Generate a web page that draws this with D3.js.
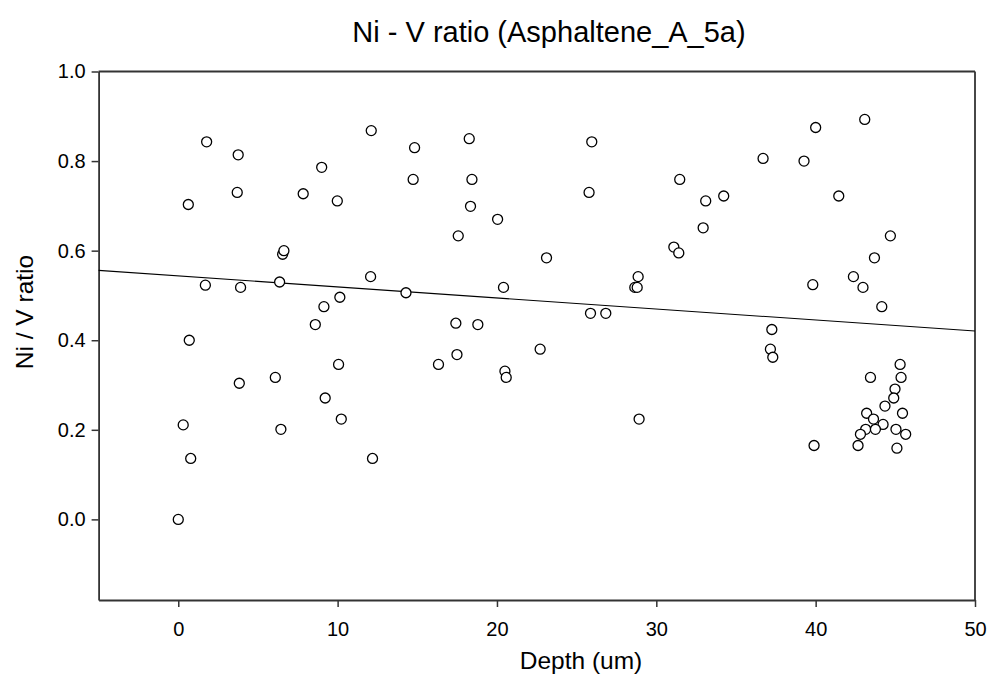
<!DOCTYPE html>
<html>
<head>
<meta charset="utf-8">
<script src="https://cdn.jsdelivr.net/npm/d3@7"></script>
<style>
  html, body { margin: 0; padding: 0; background: #fff; }
  svg { display: block; font-family: "Liberation Sans", Arial, sans-serif; }
</style>
</head>
<body>
<svg id="chart" width="991" height="677"></svg>
<script>
// ---- data ----
const depth = [
  0, 0.31, 0.69, 0.78, 0.63, 1.78, 1.70, 3.76, 3.70, 3.91, 3.83,
  6.09, 6.44, 6.36, 6.55, 6.63, 7.84, 9.00, 9.98, 10.14, 9.14, 8.60,
  10.06, 9.22, 10.23, 12.11, 12.07, 12.19, 14.83, 14.74, 14.29, 16.33,
  17.57, 17.42, 17.49, 18.26, 18.43, 18.34, 18.80, 20.04, 20.41, 20.50,
  20.58, 22.71, 23.11, 25.95, 25.78, 25.87, 26.83, 28.86, 28.65, 28.80,
  28.92, 31.10, 31.41, 31.47, 32.94, 33.10, 34.23, 36.70, 37.25, 37.16,
  37.31, 39.27, 40.00, 39.82, 39.90, 41.45, 42.37, 42.97, 43.08, 43.69,
  44.69, 44.15,
  45.30, 43.44, 45.36, 44.98, 44.90, 44.35, 43.20, 45.45, 43.63, 44.23,
  43.14, 43.75, 45.04, 42.81, 45.65, 42.66, 45.10
];
const ratio = [
  0.000, 0.211, 0.400, 0.136, 0.703, 0.843, 0.523, 0.814, 0.730, 0.518, 0.304,
  0.317, 0.201, 0.530, 0.592, 0.600, 0.727, 0.786, 0.711, 0.496, 0.475, 0.435,
  0.346, 0.271, 0.224, 0.868, 0.542, 0.136, 0.830, 0.759, 0.506, 0.346,
  0.633, 0.438, 0.368, 0.850, 0.759, 0.699, 0.435, 0.670, 0.518, 0.331,
  0.317, 0.380, 0.584, 0.843, 0.730, 0.460, 0.460, 0.542, 0.518, 0.518,
  0.224, 0.608, 0.595, 0.759, 0.651, 0.711, 0.722, 0.806, 0.424, 0.380,
  0.362, 0.800, 0.875, 0.524, 0.165, 0.722, 0.542, 0.518, 0.893, 0.584,
  0.633, 0.475,
  0.346, 0.317, 0.317, 0.291, 0.271, 0.253, 0.237, 0.237, 0.224, 0.212,
  0.201, 0.201, 0.201, 0.190, 0.190, 0.165, 0.159
];
// linear regression line
const fitDepth = [-5, 50];
const fitRatio = [0.556, 0.4205];

const xTicks = [0, 10, 20, 30, 40, 50];
const yTicks = [0.0, 0.2, 0.4, 0.6, 0.8, 1.0];

const titleText = "Ni - V ratio (Asphaltene_A_5a)";
const xLabel = "Depth (um)";
const yLabel = "Ni / V ratio";

// ---- layout ----
const svg = d3.select("#chart");
const L = 98.6, R = 975, T = 71.5, B = 600;
const x = d3.scaleLinear().domain([-5, 50]).range([L, R]);
const y = d3.scaleLinear().domain([-0.18, 1.0]).range([B, T]);

const axisColor = "#333";

// frame (top & right)
svg.append("line").attr("x1", L).attr("x2", R).attr("y1", T).attr("y2", T)
  .attr("stroke", axisColor).attr("stroke-width", 1.8);
svg.append("line").attr("x1", R).attr("x2", R).attr("y1", T).attr("y2", B)
  .attr("stroke", axisColor).attr("stroke-width", 1.8);

// axes
const xAxis = svg.append("g").attr("transform", `translate(0,${B})`)
  .call(d3.axisBottom(x).tickValues(xTicks).tickFormat(d3.format("d")).tickSizeOuter(0).tickSizeInner(7).tickPadding(15));
const yAxis = svg.append("g").attr("transform", `translate(${L},0)`)
  .call(d3.axisLeft(y).tickValues(yTicks).tickFormat(d3.format(".1f")).tickSizeOuter(0).tickSizeInner(7).tickPadding(6));

[xAxis, yAxis].forEach(g => {
  g.select(".domain").attr("stroke", axisColor).attr("stroke-width", 1.8);
  g.selectAll(".tick line").attr("stroke", axisColor).attr("stroke-width", 1.5);
  g.selectAll(".tick text").attr("fill", "#000")
    .style("font-family", "'Liberation Sans', Arial, sans-serif").style("font-size", "20px");
});

// regression line
svg.append("line")
  .attr("x1", x(fitDepth[0])).attr("y1", y(fitRatio[0]))
  .attr("x2", x(fitDepth[1])).attr("y2", y(fitRatio[1]))
  .attr("stroke", "#000").attr("stroke-width", 1.1);

// points
svg.append("g").selectAll("circle")
  .data(depth.map((d, i) => [d, ratio[i]]))
  .join("circle")
  .attr("cx", d => x(d[0])).attr("cy", d => y(d[1]))
  .attr("r", 5)
  .attr("fill", "#fff").attr("stroke", "#000").attr("stroke-width", 1.3);

// titles
svg.append("text").attr("x", 549).attr("y", 42).attr("text-anchor", "middle")
  .style("font-size", "29px").attr("fill", "#000").text(titleText);
svg.append("text").attr("x", 581).attr("y", 669).attr("text-anchor", "middle")
  .style("font-size", "24.5px").attr("fill", "#000").text(xLabel);
svg.append("text").attr("transform", "translate(33,312) rotate(-90)").attr("text-anchor", "middle")
  .style("font-size", "24.5px").attr("fill", "#000").text(yLabel);
</script>
</body>
</html>
